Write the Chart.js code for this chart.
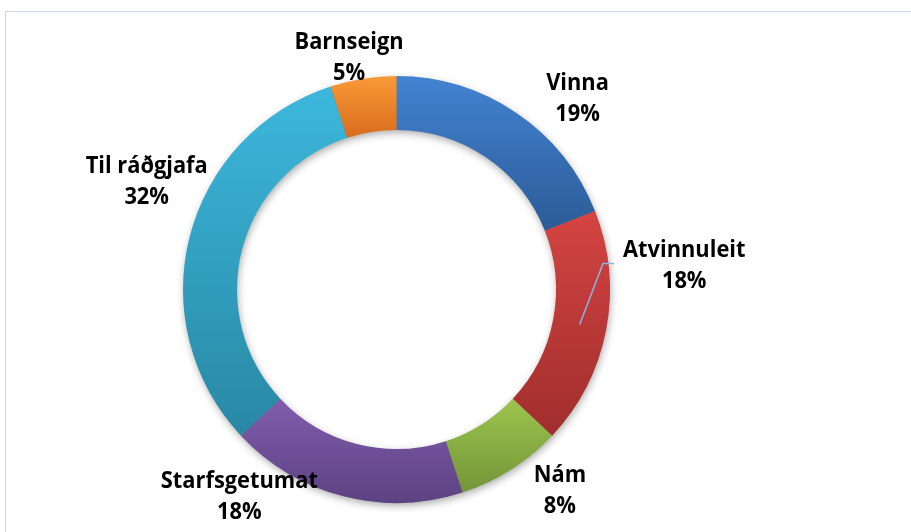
<!DOCTYPE html>
<html>
<head>
<meta charset="utf-8">
<script src="https://cdn.jsdelivr.net/npm/chart.js"></script>
<style>
    html, body { margin: 0; padding: 0; background: #fff; }
    #wrap { position: relative; width: 911px; height: 532px; overflow: hidden; }
    #frame { position: absolute; left: 5px; top: 11px; width: 1000px; height: 600px;
             border-left: 1px solid #c8d7ec; border-top: 1px solid #c8d7ec; }
    canvas { position: absolute; left: 0; top: 0; }
</style>
</head>
<body>
<div id="wrap">
    <div id="frame"></div>
    <canvas id="chart" width="911" height="532"></canvas>
</div>
<script>
const categories = ['Vinna', 'Atvinnuleit', 'Nám', 'Starfsgetumat', 'Til ráðgjafa', 'Barnseign'];
const shares = [19, 18, 8, 18, 32, 5];
const topColors = ['#4283d2', '#d44442', '#9dc44e', '#805dad', '#3cb8dc', '#fa9a38'];
const bottomColors = ['#2c5b96', '#a02e2d', '#749538', '#5d4282', '#2888a4', '#d86c1c'];

const CUTOUT = 0.747;
const FONT = 'bold 24px "Open Sans", "Liberation Sans", sans-serif';
const SQUEEZE = 0.91; // narrow the text a bit, closer to calibri

// per-slice vertical gradient, like the excel fill
function sliceGradient(context) {
    const chart = context.chart;
    const area = chart.chartArea;
    const i = context.dataIndex;
    if (!area || i === undefined) return topColors[i || 0];
    const total = shares.reduce((a, b) => a + b, 0);
    let before = 0;
    for (let k = 0; k < i; k++) before += shares[k];
    const a0 = -Math.PI / 2 + before / total * 2 * Math.PI;
    const a1 = a0 + shares[i] / total * 2 * Math.PI;
    const cy = (area.top + area.bottom) / 2;
    const R = Math.min(area.width, area.height) / 2;
    const r = R * CUTOUT;
    let minY = Infinity, maxY = -Infinity;
    for (let s = 0; s <= 40; s++) {
        const a = a0 + (a1 - a0) * s / 40;
        [R, r].forEach(rad => {
            const y = cy + Math.sin(a) * rad;
            minY = Math.min(minY, y);
            maxY = Math.max(maxY, y);
        });
    }
    const g = chart.ctx.createLinearGradient(0, minY, 0, maxY);
    g.addColorStop(0, topColors[i]);
    g.addColorStop(1, bottomColors[i]);
    return g;
}

const ringShadow = {
    id: 'ringShadow',
    beforeDatasetsDraw(chart) {
        const arc = chart.getDatasetMeta(0).data[0];
        if (!arc) return;
        const { x, y, outerRadius, innerRadius } = arc.getProps(['x', 'y', 'outerRadius', 'innerRadius'], true);
        const ctx = chart.ctx;
        ctx.save();
        ctx.shadowColor = 'rgba(0,0,0,0.38)';
        ctx.shadowBlur = 8;
        ctx.shadowOffsetX = 1;
        ctx.shadowOffsetY = 3;
        ctx.beginPath();
        ctx.arc(x, y, outerRadius - 1, 0, Math.PI * 2);
        ctx.arc(x, y, innerRadius + 1, 0, Math.PI * 2, true);
        ctx.fillStyle = '#777';
        ctx.fill();
        ctx.restore();
    }
};

function squeezedText(ctx, text, x, y) {
    ctx.save();
    ctx.translate(x, y);
    ctx.scale(SQUEEZE, 1);
    ctx.fillText(text, 0, 0);
    ctx.restore();
}

const sliceLabels = {
    id: 'sliceLabels',
    afterDatasetsDraw(chart, args, opts) {
        const ctx = chart.ctx;
        const total = shares.reduce((a, b) => a + b, 0);
        ctx.save();
        ctx.font = FONT;
        ctx.fillStyle = '#000';
        ctx.textAlign = 'center';
        ctx.textBaseline = 'alphabetic';
        chart.getDatasetMeta(0).data.forEach((arc, i) => {
            const p = arc.getProps(['x', 'y', 'startAngle', 'endAngle', 'outerRadius', 'innerRadius'], true);
            const mid = (p.startAngle + p.endAngle) / 2;
            const ax = p.x + Math.cos(mid) * p.outerRadius;
            const ay = p.y + Math.sin(mid) * p.outerRadius;
            const lx = ax + opts.offsets[i][0];
            const ly = ay + opts.offsets[i][1];
            squeezedText(ctx, categories[i], lx, ly);
            squeezedText(ctx, Math.round(shares[i] / total * 100) + '%', lx, ly + opts.lineGap);

            if (opts.leaders.includes(i)) {
                const mr = (p.outerRadius + p.innerRadius) / 2;
                const sx = p.x + Math.cos(mid) * mr;
                const sy = p.y + Math.sin(mid) * mr;
                const left = lx - ctx.measureText(categories[i]).width * SQUEEZE / 2;
                const ey = ly + 7;
                ctx.beginPath();
                ctx.moveTo(sx, sy);
                ctx.lineTo(left - 20, ey);
                ctx.lineTo(left - 9, ey);
                ctx.strokeStyle = '#8db3e2';
                ctx.lineWidth = 1.5;
                ctx.stroke();
            }
        });
        ctx.restore();
    }
};

new Chart(document.getElementById('chart'), {
    type: 'doughnut',
    data: {
        labels: categories,
        datasets: [{
            data: shares,
            backgroundColor: sliceGradient,
            borderWidth: 0,
        }]
    },
    options: {
        responsive: false,
        animation: false,
        cutout: (CUTOUT * 100) + '%',
        layout: { padding: { left: 100, right: 218, top: 76, bottom: 29 } },
        plugins: {
            legend: { display: false },
            tooltip: { enabled: false },
            sliceLabels: {
                offsets: [[61, -23], [78, -73], [49, 12], [-104, -8], [-43, -63], [-14, -30]],
                lineGap: 31,
                leaders: [1],
            }
        }
    },
    plugins: [ringShadow, sliceLabels]
});
</script>
</body>
</html>
